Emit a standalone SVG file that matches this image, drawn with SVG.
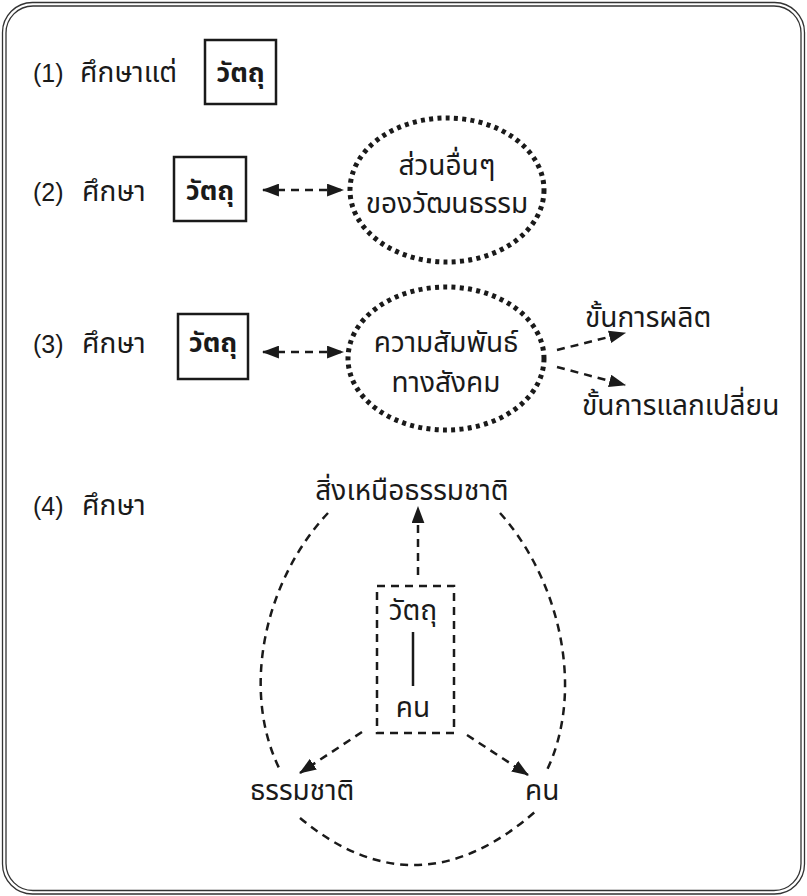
<svg xmlns="http://www.w3.org/2000/svg" width="807" height="896" viewBox="0 0 807 896">
<defs>
<marker id="ah" viewBox="0 0 16 12" refX="15" refY="6" markerWidth="17" markerHeight="13" markerUnits="userSpaceOnUse" orient="auto-start-reverse">
<path d="M0,0 L16,6 L0,12 Z" fill="#1a1a1a"/>
</marker>
</defs>
<style>
text{font-family:"Liberation Sans","Noto Sans Thai","Noto Sans",sans-serif;font-size:28px;fill:#1a1a1a}
.n{font-size:25px}
.b{font-weight:bold;font-size:27px}
.m{text-anchor:middle}
.box{fill:none;stroke:#1a1a1a;stroke-width:2.5}
.dot{fill:none;stroke:#1a1a1a;stroke-width:5;stroke-dasharray:4 4.3}
.dash{fill:none;stroke:#1a1a1a;stroke-width:2.5;stroke-dasharray:8 6}
.arr{fill:none;stroke:#1a1a1a;stroke-width:2.5;stroke-dasharray:8 6;marker-end:url(#ah)}
.arr2{fill:none;stroke:#1a1a1a;stroke-width:2.5;stroke-dasharray:8 6;marker-end:url(#ah);marker-start:url(#ah)}
.frame{fill:none;stroke:#333;stroke-width:1.3}
</style>
<g id="frame">
<rect class="frame" x="2.5" y="2.5" width="802" height="891.5" rx="30"/>
<rect class="frame" x="6" y="6" width="795" height="884.5" rx="27"/>
</g>
<g id="row1">
<text class="n" x="33" y="82">(1)</text>
<text x="80" y="82">ศึกษาแต่</text>
<g id="box1"><rect class="box" x="205" y="40" width="71" height="64"/><text class="b m" x="240.5" y="82">วัตถุ</text></g>
</g>
<g id="row2">
<text class="n" x="33" y="201">(2)</text>
<text x="82" y="201">ศึกษา</text>
<g id="box2"><rect class="box" x="174" y="157" width="72" height="64"/><text class="b m" x="210" y="200">วัตถุ</text></g>
<g id="ell2"><ellipse class="dot" cx="447" cy="190" rx="97" ry="72"/><text class="m" x="447" y="175">ส่วนอื่นๆ</text><text class="m" x="447" y="213">ของวัฒนธรรม</text></g>
</g>
<g id="row3">
<text class="n" x="33" y="353">(3)</text>
<text x="82" y="353">ศึกษา</text>
<g id="box3"><rect class="box" x="178" y="314" width="70" height="65"/><text class="b m" x="213" y="352">วัตถุ</text></g>
<g id="ell3"><ellipse class="dot" cx="446" cy="358.5" rx="98" ry="71.5"/><text class="m" x="446" y="352">ความสัมพันธ์</text><text class="m" x="446" y="392">ทางสังคม</text></g>
<g id="prod"><text x="585" y="327">ขั้นการผลิต</text></g>
<g id="exch"><text x="582" y="415">ขั้นการแลกเปลี่ยน</text></g>
</g>
<g id="row4">
<text class="n" x="33" y="515">(4)</text>
<text x="82" y="515">ศึกษา</text>
<g id="super"><text class="m" x="412" y="500">สิ่งเหนือธรรมชาติ</text></g>
<g id="center"><rect class="dash" x="377" y="586" width="77" height="147"/><text class="m" x="413" y="620">วัตถุ</text><line x1="413" y1="632" x2="413" y2="686" stroke="#1a1a1a" stroke-width="2.5"/><text class="m" x="413" y="717">คน</text></g>
<g id="nature"><text x="250" y="800">ธรรมชาติ</text></g>
<g id="man"><text x="525" y="800">คน</text></g>
</g>
<g id="connectors">
<line class="arr2" x1="263" y1="190" x2="343" y2="190"/>
<line class="arr2" x1="263" y1="352" x2="343" y2="352"/>
<line class="arr" x1="557" y1="350" x2="625" y2="333"/>
<line class="arr" x1="557" y1="367" x2="625" y2="385"/>
<line class="arr" x1="418" y1="575" x2="418" y2="507"/>
<line class="arr" x1="362" y1="732" x2="300" y2="773"/>
<line class="arr" x1="467" y1="735" x2="528" y2="775"/>
<path class="dash" d="M328,513 C265,580 240,690 280,770"/>
<path class="dash" d="M500,513 C560,580 585,690 547,770"/>
<path class="dash" d="M300,818 Q418,916 537,810"/>
</g>
</svg>
